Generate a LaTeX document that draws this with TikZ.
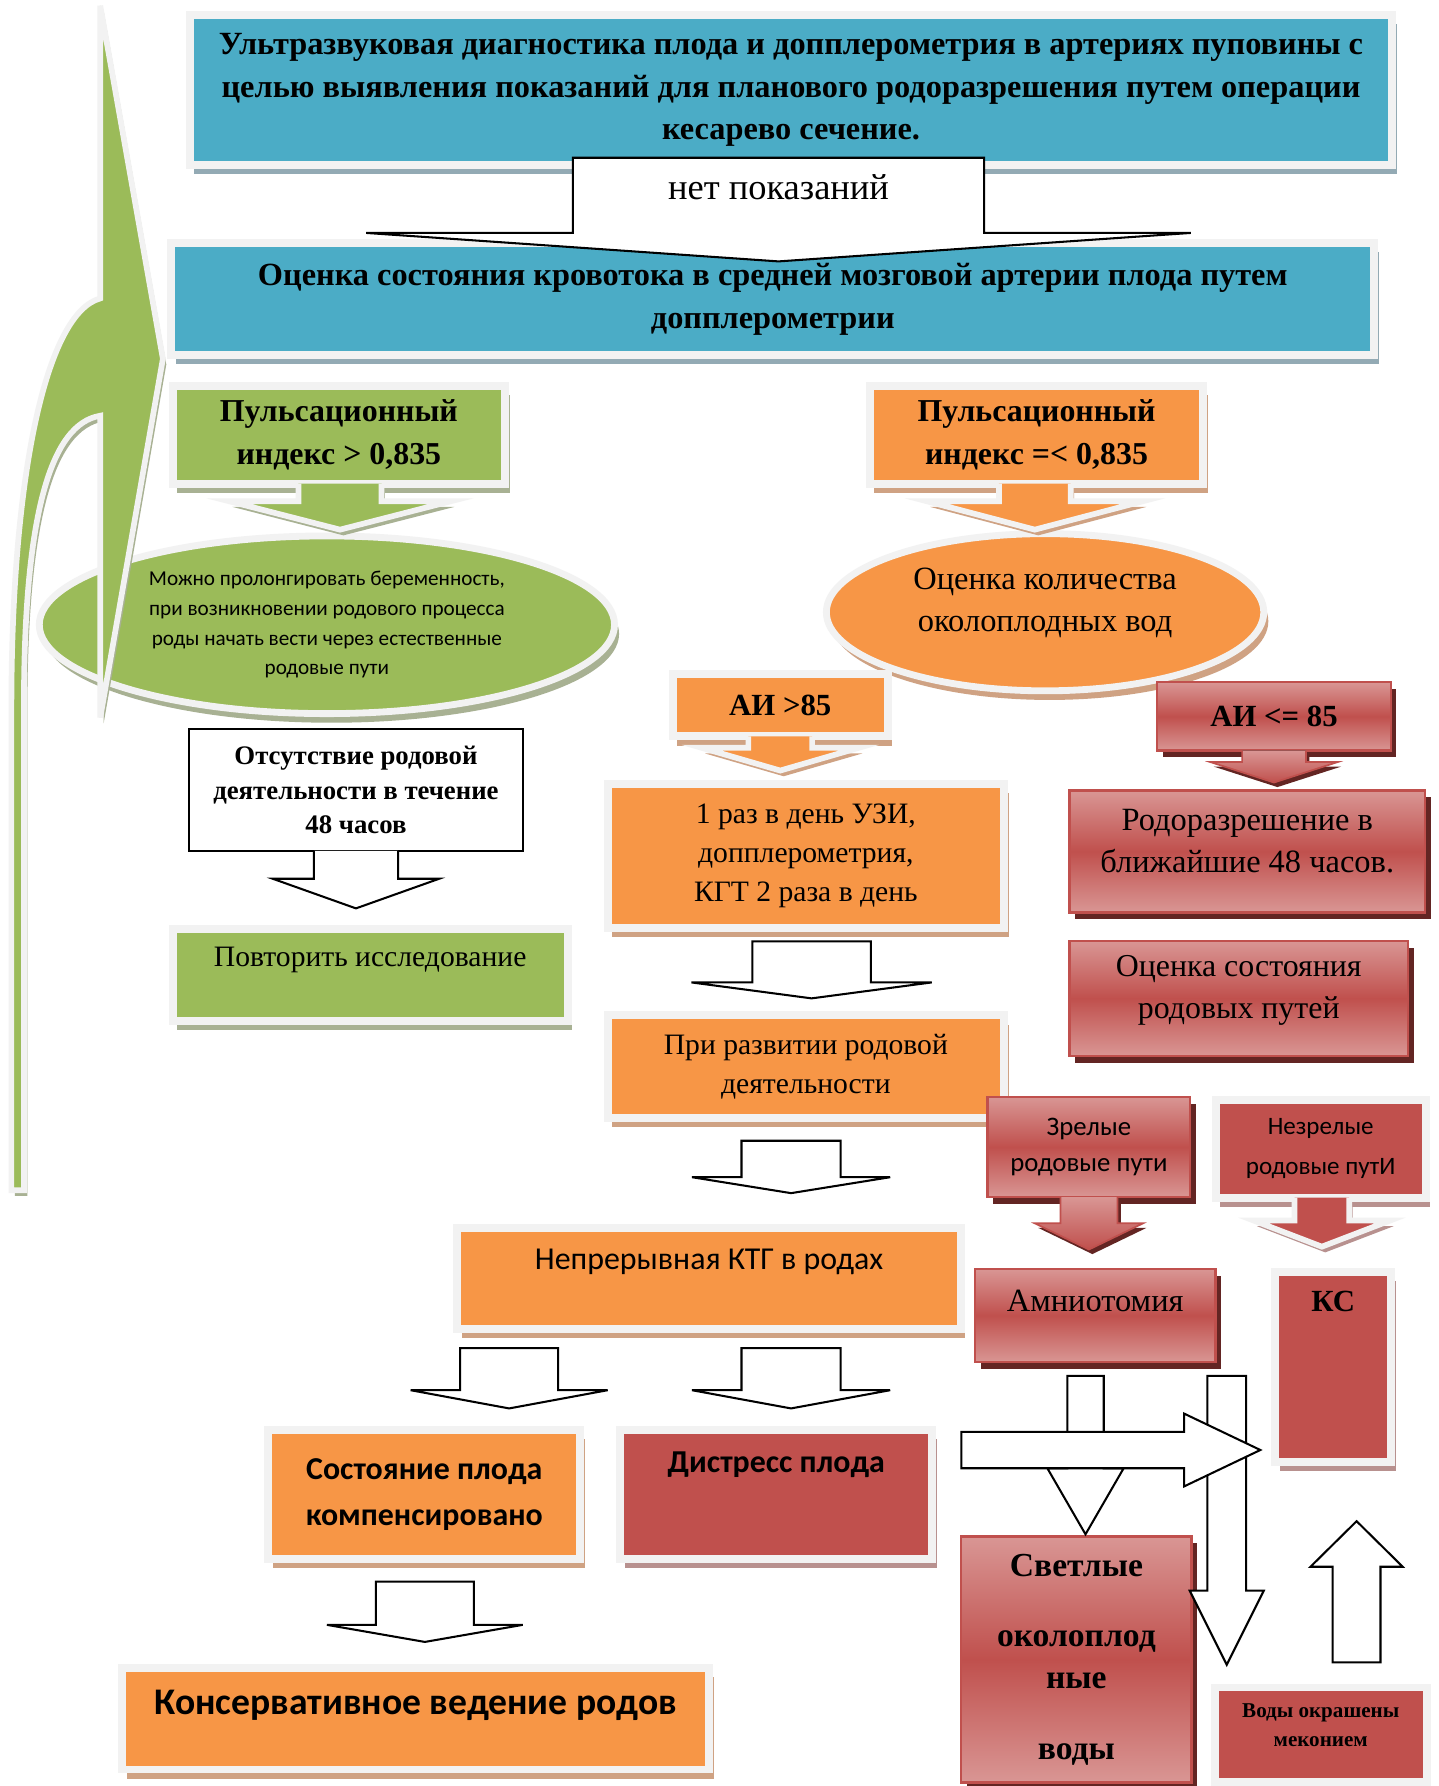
\documentclass[tikz,border=0pt]{standalone}
\usepackage{fontspec}
\setmainfont{Liberation Serif}
\newfontfamily\calibri{Carlito}
\usetikzlibrary{shapes.geometric, calc, shadows}
\definecolor{aqua}{HTML}{4BACC6}
\definecolor{aquashade}{HTML}{93AAB4}
\definecolor{leaf}{HTML}{9BBB59}
\definecolor{leafshade}{HTML}{A8B193}
\definecolor{tangerine}{HTML}{F79646}
\definecolor{tangshade}{HTML}{CFA283}
\definecolor{brick}{HTML}{C0504D}
\definecolor{rose}{HTML}{D99694}
\definecolor{brickshade}{HTML}{B8918F}
\definecolor{brickdark}{HTML}{632523}
\definecolor{rim}{HTML}{F2F2F2}

% block arrow down: [style]{start}{target}{gap}{half shaft}{half head}{head length}
\newcommand{\blockdown}[7][blockarr]{%
  \coordinate (bdtip) at ($(#2 |- #3)+(0,{-(#4)})$);
  \draw[#1] ($(#2)+({-(#5)},0)$) -- ($(#2)+(#5,0)$) -- ($(bdtip)+(#5,{-(#7)})$)
    -- ($(bdtip)+(#6,{-(#7)})$) -- (bdtip) -- ($(bdtip)+({-(#6)},{-(#7)})$)
    -- ($(bdtip)+({-(#5)},{-(#7)})$) -- cycle;}
% same, open at the top (grows out of its box)
\newcommand{\tabdown}[8]{%
  \coordinate (bdtip) at ($(#3 |- #4)+(0,{-(#5)})$);
  \fill[#1] ($(#3)+({-(#6)},0)$) -- ($(#3)+(#6,0)$) -- ($(bdtip)+(#6,{-(#8)})$)
    -- ($(bdtip)+(#7,{-(#8)})$) -- (bdtip) -- ($(bdtip)+({-(#7)},{-(#8)})$)
    -- ($(bdtip)+({-(#6)},{-(#8)})$) -- cycle;
  \draw[#2] ($(#3)+(#6,0)$) -- ($(bdtip)+(#6,{-(#8)})$)
    -- ($(bdtip)+(#7,{-(#8)})$) -- (bdtip) -- ($(bdtip)+({-(#7)},{-(#8)})$)
    -- ($(bdtip)+({-(#6)},{-(#8)})$) -- ($(#3)+({-(#6)},0)$);}
\newcommand{\blockright}[7][blockarr]{%
  \coordinate (brtip) at ($(#2 -| #3)+({-(#4)},0)$);
  \draw[#1] ($(#2)+(0,{-(#5)})$) -- ($(brtip)+({-(#7)},{-(#5)})$) -- ($(brtip)+({-(#7)},{-(#6)})$)
    -- (brtip) -- ($(brtip)+({-(#7)},#6)$) -- ($(brtip)+({-(#7)},#5)$) -- ($(#2)+(0,#5)$) -- cycle;}

\begin{document}
\begin{tikzpicture}[
   x=1pt, y=-1pt,
   plate/.style={rectangle, inner sep=0pt, align=center, draw=rim, line width=7pt},
   aquaplate/.style={plate, fill=aqua,
       drop shadow={shadow xshift=4pt, shadow yshift=-8pt, fill=aquashade, opacity=1}},
   leafplate/.style={plate, fill=leaf,
       drop shadow={shadow xshift=4pt, shadow yshift=-8pt, fill=leafshade, opacity=1}},
   tangplate/.style={plate, fill=tangerine,
       drop shadow={shadow xshift=4pt, shadow yshift=-8pt, fill=tangshade, opacity=1}},
   brickplate/.style={plate, fill=brick,
       drop shadow={shadow xshift=4pt, shadow yshift=-8pt, fill=brickshade, opacity=1}},
   glossy/.style={rectangle, inner sep=0pt, align=center, draw=brick, line width=2pt,
       top color=rose, bottom color=rose, middle color=brick,
       drop shadow={shadow xshift=5pt, shadow yshift=-6pt, fill=brickdark, opacity=1}},
   txt/.style={align=center, inner sep=0pt},
   blockarr/.style={draw=black, fill=white, line width=1.8pt, line join=miter},
   blockedge/.style={draw=black, line width=1.8pt, line join=miter},
   rimedge/.style={draw=rim, line width=5pt, line join=miter},
   leafflow/.style={fill=leaf,
       drop shadow={shadow xshift=3pt, shadow yshift=-5pt, fill=leafshade, opacity=1}},
   tangflow/.style={fill=tangerine,
       drop shadow={shadow xshift=3pt, shadow yshift=-5pt, fill=tangshade, opacity=1}},
   brickflow/.style={fill=brick,
       drop shadow={shadow xshift=3pt, shadow yshift=-5pt, fill=brickshade, opacity=1}},
   glossyflow/.style={top color=rose, bottom color=brick,
       drop shadow={shadow xshift=3pt, shadow yshift=-4pt, fill=brickdark, opacity=1}},
   glossyedge/.style={draw=brick, line width=1.5pt, line join=miter}]

  \useasboundingbox (0,0) rectangle (1263,1568);
  \fill[white] (0,0) rectangle (1263,1568);

  \node[aquaplate, minimum width=1056pt, minimum height=131pt,
        font=\fontsize{28.4}{37.5}\selectfont\bfseries] (usd) at (694.5,79)
       {Ультразвуковая диагностика плода и допплерометрия в артериях пуповины с\\
        целью выявления показаний для планового родоразрешения путем операции\\
        кесарево сечение.};
  \node[aquaplate, minimum width=1056pt, minimum height=98pt,
        font=\fontsize{28.4}{37.5}\selectfont\bfseries] (mca) at (678.5,262.5)
       {Оценка состояния кровотока в средней мозговой артерии плода путем\\допплерометрии};

  \coordinate (a0s) at ($(usd.south)+(-11,-9.5)$);
  \blockdown{a0s}{mca.north}{-19.5}{180.5}{362}{25}
  \node[font=\fontsize{32}{36}\selectfont] (noind) at ($(a0s)+(0,26)$) {нет показаний};

  \node[leafplate, minimum width=292pt, minimum height=86pt,
        font=\fontsize{28}{38}\selectfont\bfseries] (pihigh) at (297.5,381.5)
       {Пульсационный\\индекс > 0,835};
  \node[tangplate, minimum width=293pt, minimum height=86pt,
        font=\fontsize{28}{38}\selectfont\bfseries] (pilow) at (910,381.5)
       {Пульсационный\\индекс =< 0,835};
  \node[leafplate, ellipse, line width=6pt, minimum width=505pt, minimum height=156pt,
        font=\calibri\fontsize{18.6}{26}\selectfont] (prolong) at (287,548.5)
       {Можно пролонгировать беременность,\\при возникновении родового процесса\\
        роды начать вести через естественные\\родовые пути};
  \node[tangplate, ellipse, line width=6pt, minimum width=384pt, minimum height=138pt,
        label={[txt, font=\fontsize{28.5}{37}\selectfont, yshift=8pt]center:{Оценка количества\\околоплодных вод}}]
       (afv) at (917.5,537.5) {};

  \coordinate (g1s) at ($(pihigh.south)+(1,-3.5)$);
  \tabdown{leafflow}{rimedge}{g1s}{prolong.north}{2.5}{36.5}{97.5}{25}
  \coordinate (o1s) at ($(pilow.south)+(-1.5,-3.5)$);
  \tabdown{tangflow}{rimedge}{o1s}{afv.north}{0.5}{31.5}{95}{25}

  % curved return arrow on the left
  \draw[leafflow, draw=rim, line width=5pt, line join=miter]
    (10,1045) -- (10,620) .. controls (10,420) and (40,275) .. (88,262) -- (88,5)
    -- (143,315) -- (88,630) -- (88,365) .. controls (45,372) and (21,450) .. (21,620)
    -- (21,1045) -- cycle;

  \node[tangplate, minimum width=189pt, minimum height=55pt,
        font=\fontsize{27}{32}\selectfont\bfseries] (aihigh) at (685,619) {АИ >85};
  \node[glossy, minimum width=205pt, minimum height=60pt,
        font=\fontsize{27}{32}\selectfont\bfseries] (ailow) at (1118.5,629) {АИ <= 85};

  \node[draw=black, line width=1.8pt, fill=white, minimum width=293pt, minimum height=107pt,
        align=center, inner sep=0pt, font=\fontsize{23.5}{30.5}\selectfont\bfseries]
       (nolabour) at (312.5,693.5) {Отсутствие родовой\\деятельности в течение\\48 часов};
  \node[leafplate, minimum width=347pt, minimum height=81pt,
        label={[txt, font=\fontsize{26}{30}\selectfont, yshift=13pt]center:Повторить исследование}]
       (retest) at (325,856) {};
  \coordinate (a1s) at ($(nolabour.south)+(0,-1)$);
  \tabdown{fill=white}{blockedge}{a1s}{retest.north}{14.5}{37}{73}{26}

  \node[tangplate, minimum width=348pt, minimum height=126pt,
        font=\fontsize{26}{34}\selectfont] (daily) at (707.5,751.5)
       {1 раз в день УЗИ,\\допплерометрия,\\КГТ 2 раза в день};
  \node[glossy, minimum width=312pt, minimum height=107pt,
        label={[txt, font=\fontsize{28.5}{37}\selectfont, yshift=9pt]center:{Родоразрешение в\\ближайшие 48 часов.}}]
       (deliver) at (1095,747.5) {};
  \node[glossy, minimum width=297pt, minimum height=101pt,
        label={[txt, font=\fontsize{28}{37}\selectfont, yshift=7pt]center:{Оценка состояния\\родовых путей}}]
       (canal) at (1087.5,876.5) {};

  \coordinate (o2s) at ($(aihigh.south)+(0,-3.5)$);
  \tabdown{tangflow}{rimedge}{o2s}{daily.north}{8.5}{28}{69}{20}
  \coordinate (r1s) at ($(ailow.south)+(0,-1)$);
  \tabdown{glossyflow}{glossyedge}{r1s}{deliver.north}{6}{28}{56}{18}

  \node[tangplate, minimum width=348pt, minimum height=90pt,
        font=\fontsize{26}{34}\selectfont] (labour) at (707.5,936.5)
       {При развитии родовой\\деятельности};
  \coordinate (a2s) at ($(daily.south)+(5,8.5)$);
  \blockdown{a2s}{labour.north}{11.5}{52}{105.5}{14}

  \node[glossy, minimum width=178pt, minimum height=88pt,
        font=\calibri\fontsize{23.5}{32}\selectfont] (ripe) at (956,1007) {Зрелые\\родовые пути};
  \node[brickplate, minimum width=184pt, minimum height=86pt,
        font=\calibri\fontsize{22}{35}\selectfont] (unripe) at (1159.5,1008.5) {Незрелые\\родовые путИ};

  \node[tangplate, minimum width=442pt, minimum height=88pt,
        label={[txt, font=\calibri\fontsize{28}{32}\selectfont, yshift=14.5pt]center:Непрерывная КТГ в родах}]
       (ctg) at (622.5,1122.5) {};
  \node[glossy, minimum width=211pt, minimum height=82pt,
        label={[txt, font=\fontsize{28.5}{32}\selectfont, yshift=13pt]center:Амниотомия}]
       (amnio) at (961.5,1155) {};
  \node[brickplate, minimum width=102pt, minimum height=167pt,
        label={[txt, font=\fontsize{27}{32}\selectfont\bfseries, yshift=57pt]center:КС}]
       (cs) at (1170.5,1200) {};

  \coordinate (r2s) at ($(ripe.south)+(0,-1)$);
  \tabdown{glossyflow}{glossyedge}{r2s}{amnio.north}{16}{25}{47.5}{23}
  \coordinate (r3s) at ($(unripe.south)+(1,-3.5)$);
  \tabdown{brickflow}{rimedge}{r3s}{cs.north}{18.5}{24}{60}{23}
  \coordinate (a3s) at ($(labour.south)+(-13,16.5)$);
  \blockdown{a3s}{ctg.north}{27.5}{43.5}{87}{14}

  \node[tangplate, minimum width=274pt, minimum height=113pt,
        font=\calibri\fontsize{28}{40}\selectfont\bfseries] (comp) at (372.5,1312)
       {Состояние плода\\компенсировано};
  \node[brickplate, minimum width=274pt, minimum height=113pt,
        label={[txt, font=\calibri\fontsize{28}{32}\selectfont\bfseries, yshift=26pt]center:Дистресс плода}]
       (distress) at (681.5,1312) {};
  \node[tangplate, minimum width=515pt, minimum height=89pt,
        label={[txt, font=\calibri\fontsize{33}{38}\selectfont\bfseries, yshift=12pt]center:Консервативное ведение родов}]
       (conserv) at (365,1509) {};

  \coordinate (a4s) at ($(ctg.south)+(-175.5,13.5)$);
  \blockdown{a4s}{comp.north}{15.5}{43}{86.5}{16}
  \coordinate (a5s) at ($(ctg.south)+(72,13.5)$);
  \blockdown{a5s}{distress.north}{15.5}{43.5}{87}{16}
  \coordinate (a6s) at ($(comp.south)+(0.5,16.5)$);
  \blockdown{a6s}{conserv.north}{19.5}{43}{86}{15}

  \node[glossy, minimum width=202pt, minimum height=216pt,
        font=\fontsize{29.5}{37}\selectfont\bfseries] (clear) at (945,1457)
       {Светлые\\[25pt]околоплод\\ные\\[25pt]воды};
  \node[brickplate, minimum width=186pt, minimum height=83pt,
        label={[txt, font=\fontsize{18.5}{25}\selectfont\bfseries, yshift=8.5pt]center:{Воды окрашены\\меконием}}]
       (mec) at (1159.5,1523) {};

  \coordinate (a7s) at ($(amnio.south)+(-8.5,11)$);
  \blockdown{a7s}{clear.north}{1}{16}{33.5}{58}
  \coordinate (a8s) at ($(amnio.south)+(115.5,11)$);
  \blockdown{a8s}{mec.north}{16.5}{17}{32.5}{65}
  \coordinate (a10s) at ($(amnio.south west)+(-11,76)$);
  \blockright{a10s}{cs.west}{9.5}{16}{32}{67}
  \coordinate (a9s) at ($(mec.north)+(31.5,-18.5)$);
  \blockdown{a9s}{cs.south}{-48.5}{21}{40.5}{-40}
\end{tikzpicture}
\end{document}
